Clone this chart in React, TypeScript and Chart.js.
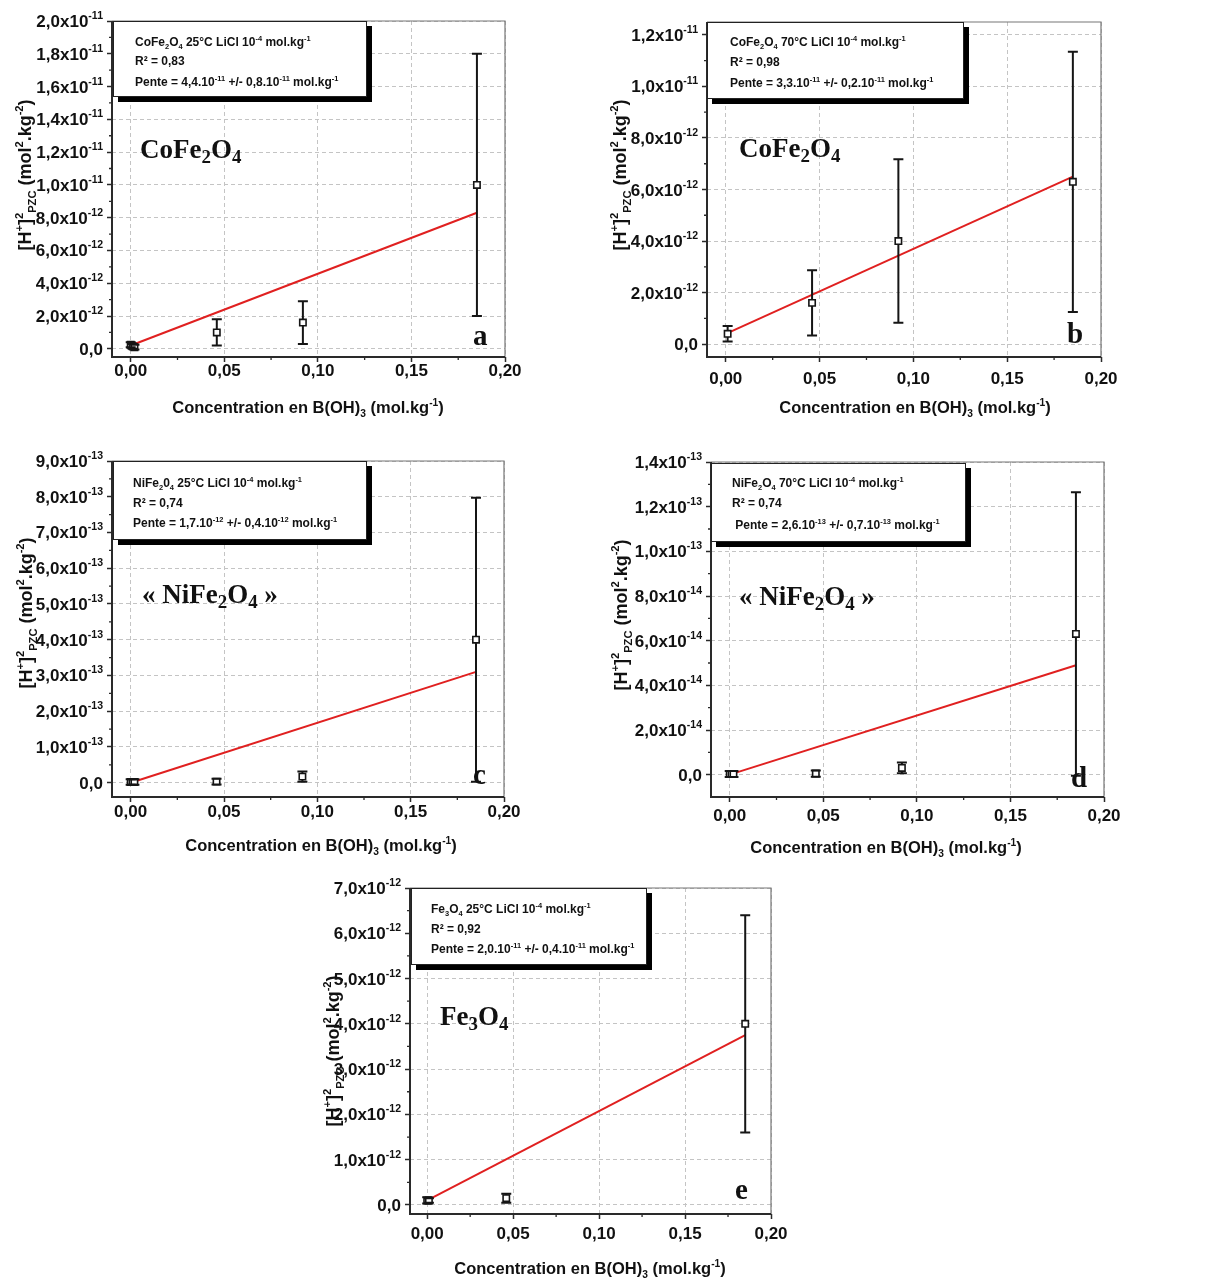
import React, { useEffect, useRef } from "react";
import { Chart, registerables } from "chart.js";

Chart.register(...registerables);

// ---------- shared axis data ----------
const X_TICKS = [0, 0.05, 0.1, 0.15, 0.2];
const X_TICK_LABELS = ["0,00", "0,05", "0,10", "0,15", "0,20"];
const X_TITLE = "Concentration en B(OH)_{3} (mol.kg^{-1})";
const Y_TITLE = "[H^{+}]^{2}_{PZC} (mol^{2}.kg^{-2})";

// ---------- panel a : CoFe2O4 25 °C ----------
const A_X = [0, 0.001, 0.002, 0.046, 0.092, 0.185];
const A_Y = [2.5e-13, 1.5e-13, 1.0e-13, 1.0e-12, 1.6e-12, 1.0e-11];
const A_ERR = [1.5e-13, 1.5e-13, 1.5e-13, 8e-13, 1.3e-12, 8.0e-12];
const A_FIT_X = [0, 0.185];
const A_FIT_Y = [2.0e-13, 8.3e-12];
const A_Y_TICKS = [0, 2e-12, 4e-12, 6e-12, 8e-12, 1e-11, 1.2e-11, 1.4e-11, 1.6e-11, 1.8e-11, 2e-11];
const A_Y_LABELS = ["0,0", "2,0x10^{-12}", "4,0x10^{-12}", "6,0x10^{-12}", "8,0x10^{-12}", "1,0x10^{-11}", "1,2x10^{-11}", "1,4x10^{-11}", "1,6x10^{-11}", "1,8x10^{-11}", "2,0x10^{-11}"];
const A_INFO = ["CoFe_{2}O_{4} 25°C LiCl 10^{-4} mol.kg^{-1}", "R² = 0,83", "Pente = 4,4.10^{-11} +/- 0,8.10^{-11} mol.kg^{-1}"];
const A_NAME = "CoFe_{2}O_{4}";

// ---------- panel b : CoFe2O4 70 °C ----------
const B_X = [0.001, 0.046, 0.092, 0.185];
const B_Y = [4.0e-13, 1.6e-12, 4.0e-12, 6.3e-12];
const B_ERR = [3.0e-13, 1.27e-12, 3.17e-12, 5.05e-12];
const B_FIT_X = [0, 0.185];
const B_FIT_Y = [4.0e-13, 6.5e-12];
const B_Y_TICKS = [0, 2e-12, 4e-12, 6e-12, 8e-12, 1e-11, 1.2e-11];
const B_Y_LABELS = ["0,0", "2,0x10^{-12}", "4,0x10^{-12}", "6,0x10^{-12}", "8,0x10^{-12}", "1,0x10^{-11}", "1,2x10^{-11}"];
const B_INFO = ["CoFe_{2}O_{4} 70°C LiCl 10^{-4} mol.kg^{-1}", "R² = 0,98", "Pente = 3,3.10^{-11} +/- 0,2.10^{-11} mol.kg^{-1}"];
const B_NAME = "CoFe_{2}O_{4}";

// ---------- panel c : NiFe2O4 25 °C ----------
const C_X = [0, 0.001, 0.002, 0.046, 0.092, 0.185];
const C_Y = [2e-15, 2e-15, 2e-15, 3e-15, 1.7e-14, 4.0e-13];
const C_ERR = [8e-15, 8e-15, 8e-15, 8e-15, 1.4e-14, 3.97e-13];
const C_FIT_X = [0, 0.185];
const C_FIT_Y = [0, 3.1e-13];
const C_Y_TICKS = [0, 1e-13, 2e-13, 3e-13, 4e-13, 5e-13, 6e-13, 7e-13, 8e-13, 9e-13];
const C_Y_LABELS = ["0,0", "1,0x10^{-13}", "2,0x10^{-13}", "3,0x10^{-13}", "4,0x10^{-13}", "5,0x10^{-13}", "6,0x10^{-13}", "7,0x10^{-13}", "8,0x10^{-13}", "9,0x10^{-13}"];
const C_INFO = ["NiFe_{2}0_{4} 25°C LiCl 10^{-4} mol.kg^{-1}", "R² = 0,74", "Pente = 1,7.10^{-12} +/- 0,4.10^{-12} mol.kg^{-1}"];
const C_NAME = "« NiFe_{2}O_{4} »";

// ---------- panel d : NiFe2O4 70 °C ----------
const D_X = [0, 0.001, 0.002, 0.046, 0.092, 0.185];
const D_Y = [3e-16, 3e-16, 3e-16, 5e-16, 3.0e-15, 6.3e-14];
const D_ERR = [1.3e-15, 1.3e-15, 1.3e-15, 1.4e-15, 2.4e-15, 6.35e-14];
const D_FIT_X = [0, 0.185];
const D_FIT_Y = [0, 4.9e-14];
const D_Y_TICKS = [0, 2e-14, 4e-14, 6e-14, 8e-14, 1e-13, 1.2e-13, 1.4e-13];
const D_Y_LABELS = ["0,0", "2,0x10^{-14}", "4,0x10^{-14}", "6,0x10^{-14}", "8,0x10^{-14}", "1,0x10^{-13}", "1,2x10^{-13}", "1,4x10^{-13}"];
const D_INFO = ["NiFe_{2}O_{4} 70°C LiCl 10^{-4} mol.kg^{-1}", "R² = 0,74", " Pente = 2,6.10^{-13} +/- 0,7.10^{-13} mol.kg^{-1}"];
const D_NAME = "« NiFe_{2}O_{4} »";

// ---------- panel e : Fe3O4 25 °C ----------
const E_X = [0, 0.001, 0.046, 0.185];
const E_Y = [1.0e-13, 1.0e-13, 1.5e-13, 4.0e-12];
const E_ERR = [7e-14, 5e-14, 1.0e-13, 2.4e-12];
const E_FIT_X = [0, 0.185];
const E_FIT_Y = [1.0e-13, 3.75e-12];
const E_Y_TICKS = [0, 1e-12, 2e-12, 3e-12, 4e-12, 5e-12, 6e-12, 7e-12];
const E_Y_LABELS = ["0,0", "1,0x10^{-12}", "2,0x10^{-12}", "3,0x10^{-12}", "4,0x10^{-12}", "5,0x10^{-12}", "6,0x10^{-12}", "7,0x10^{-12}"];
const E_INFO = ["Fe_{3}O_{4} 25°C LiCl 10^{-4} mol.kg^{-1}", "R² = 0,92", "Pente = 2,0.10^{-11} +/- 0,4.10^{-11} mol.kg^{-1}"];
const E_NAME = "Fe_{3}O_{4}";

const SANS = '"Liberation Sans", Arial, Helvetica, sans-serif';
const SERIF = '"Liberation Serif", "Times New Roman", Times, serif';
const MARK_HALF = 3.2;

type Seg = { t: string; k: "n" | "sup" | "sub" };
function parseRich(s: string): Seg[] {
  const segs: Seg[] = [];
  let buf = "";
  let i = 0;
  while (i < s.length) {
    const c = s[i];
    if ((c === "^" || c === "_") && s[i + 1] === "{") {
      if (buf) { segs.push({ t: buf, k: "n" }); buf = ""; }
      const end = s.indexOf("}", i + 2);
      segs.push({ t: s.slice(i + 2, end), k: c === "^" ? "sup" : "sub" });
      i = end + 1;
    } else { buf += c; i++; }
  }
  if (buf) segs.push({ t: buf, k: "n" });
  return segs;
}

interface RichOpts { size: number; family: string; weight?: string; scale?: number; rise?: number; drop?: number; color?: string; align?: "left" | "right" | "center"; }

function drawRich(ctx: CanvasRenderingContext2D, s: string, x: number, y: number, o: RichOpts) {
  const segs = parseRich(s);
  const weight = o.weight ?? "bold";
  const scale = o.scale ?? 0.62;
  const rise = o.rise ?? o.size * 0.45;
  const drop = o.drop ?? o.size * 0.25;
  const items: { t: string; x: number; font: string; dy: number }[] = [];
  let cx = 0;
  for (const sg of segs) {
    const fs = sg.k === "n" ? o.size : o.size * scale;
    const font = `${weight} ${fs}px ${o.family}`;
    ctx.font = font;
    const w = ctx.measureText(sg.t).width;
    items.push({ t: sg.t, x: cx, font, dy: sg.k === "sup" ? -rise : sg.k === "sub" ? drop : 0 });
    cx += w;
  }
  const align = o.align ?? "left";
  const x0 = align === "right" ? x - cx : align === "center" ? x - cx / 2 : x;
  ctx.fillStyle = o.color ?? "#111";
  ctx.textAlign = "left";
  ctx.textBaseline = "alphabetic";
  for (const it of items) {
    ctx.font = it.font;
    ctx.fillText(it.t, x0 + it.x, y + it.dy);
  }
}

interface Panel {
  xs: number[]; ys: number[]; err: number[]; fitX: number[]; fitY: number[];
  yMin: number; yMax: number; yTicks: number[]; yLabels: string[];
  info: string[]; name: string; letter: string;
  cv: { x: number; y: number; w: number; h: number };
  plot: { l: number; t: number; r: number; b: number };
  yTitle: { x: number; y: number }; xLabelY: number; xTitle: { x: number; y: number };
  box: { x: number; y: number; w: number; h: number }; infoX: number; infoY: number[];
  namePos: { x: number; y: number }; letterPos: { x: number; y: number };
}

const PANELS: Panel[] = [
  {
    xs: A_X, ys: A_Y, err: A_ERR, fitX: A_FIT_X, fitY: A_FIT_Y, yMin: -5e-13, yMax: 2e-11,
    yTicks: A_Y_TICKS, yLabels: A_Y_LABELS, info: A_INFO, name: A_NAME, letter: "a",
    cv: { x: 0, y: 0, w: 600, h: 432 }, plot: { l: 112, t: 21, r: 505, b: 357 },
    yTitle: { x: 25, y: 175 }, xLabelY: 376, xTitle: { x: 308, y: 413 },
    box: { x: 113, y: 21, w: 254, h: 76 }, infoX: 135, infoY: [46, 65, 86],
    namePos: { x: 140, y: 158 }, letterPos: { x: 473, y: 345 },
  },
  {
    xs: B_X, ys: B_Y, err: B_ERR, fitX: B_FIT_X, fitY: B_FIT_Y, yMin: -5e-13, yMax: 1.25e-11,
    yTicks: B_Y_TICKS, yLabels: B_Y_LABELS, info: B_INFO, name: B_NAME, letter: "b",
    cv: { x: 600, y: 0, w: 608, h: 432 }, plot: { l: 707, t: 22, r: 1101, b: 357 },
    yTitle: { x: 620, y: 175 }, xLabelY: 384, xTitle: { x: 915, y: 413 },
    box: { x: 707, y: 22, w: 257, h: 77 }, infoX: 730, infoY: [46, 66, 87],
    namePos: { x: 739, y: 157 }, letterPos: { x: 1067, y: 343 },
  },
  {
    xs: C_X, ys: C_Y, err: C_ERR, fitX: C_FIT_X, fitY: C_FIT_Y, yMin: -4e-14, yMax: 9e-13,
    yTicks: C_Y_TICKS, yLabels: C_Y_LABELS, info: C_INFO, name: C_NAME, letter: "c",
    cv: { x: 0, y: 436, w: 600, h: 430 }, plot: { l: 112, t: 461, r: 504, b: 797 },
    yTitle: { x: 26, y: 613 }, xLabelY: 817, xTitle: { x: 321, y: 851 },
    box: { x: 113, y: 461, w: 254, h: 79 }, infoX: 133, infoY: [487, 507, 527],
    namePos: { x: 142, y: 603 }, letterPos: { x: 473, y: 784 },
  },
  {
    xs: D_X, ys: D_Y, err: D_ERR, fitX: D_FIT_X, fitY: D_FIT_Y, yMin: -1e-14, yMax: 1.4e-13,
    yTicks: D_Y_TICKS, yLabels: D_Y_LABELS, info: D_INFO, name: D_NAME, letter: "d",
    cv: { x: 600, y: 436, w: 608, h: 430 }, plot: { l: 711, t: 462, r: 1104, b: 797 },
    yTitle: { x: 621, y: 615 }, xLabelY: 821, xTitle: { x: 886, y: 853 },
    box: { x: 711, y: 463, w: 255, h: 79 }, infoX: 732, infoY: [487, 507, 529],
    namePos: { x: 739, y: 605 }, letterPos: { x: 1071, y: 787 },
  },
  {
    xs: E_X, ys: E_Y, err: E_ERR, fitX: E_FIT_X, fitY: E_FIT_Y, yMin: -2e-13, yMax: 7e-12,
    yTicks: E_Y_TICKS, yLabels: E_Y_LABELS, info: E_INFO, name: E_NAME, letter: "e",
    cv: { x: 300, y: 868, w: 600, h: 414 }, plot: { l: 410, t: 888, r: 771, b: 1214 },
    yTitle: { x: 333, y: 1051 }, xLabelY: 1239, xTitle: { x: 590, y: 1274 },
    box: { x: 411, y: 888, w: 236, h: 77 }, infoX: 431, infoY: [913, 933, 953],
    namePos: { x: 440, y: 1025 }, letterPos: { x: 735, y: 1199 },
  },
];

function makePlugin(p: Panel) {
  const X = (chart: any, v: number) => chart.scales.x.getPixelForValue(v) + p.cv.x;
  const Y = (chart: any, v: number) => chart.scales.y.getPixelForValue(v) + p.cv.y;
  return {
    id: "decor",
    afterDatasetsDraw(chart: any) {
      // error bars, drawn around (not through) the open square markers
      const ctx: CanvasRenderingContext2D = chart.ctx;
      ctx.save();
      ctx.translate(-p.cv.x, -p.cv.y);
      ctx.strokeStyle = "#151515";
      ctx.lineWidth = 2;
      p.xs.forEach((xv, i) => {
        const e = p.err[i];
        const x = X(chart, xv);
        const yc = Y(chart, p.ys[i]);
        const y1 = Y(chart, p.ys[i] - e);
        const y2 = Y(chart, p.ys[i] + e);
        ctx.beginPath();
        if (y1 > yc + MARK_HALF) { ctx.moveTo(x, y1); ctx.lineTo(x, yc + MARK_HALF); }
        if (y2 < yc - MARK_HALF) { ctx.moveTo(x, yc - MARK_HALF); ctx.lineTo(x, y2); }
        ctx.moveTo(x - 5, y1); ctx.lineTo(x + 5, y1);
        ctx.moveTo(x - 5, y2); ctx.lineTo(x + 5, y2);
        ctx.stroke();
      });
      ctx.restore();
    },
    afterDraw(chart: any) {
      const ctx: CanvasRenderingContext2D = chart.ctx;
      const a = chart.chartArea;
      const L = a.left + p.cv.x, R = a.right + p.cv.x, T = a.top + p.cv.y, B = a.bottom + p.cv.y;
      ctx.save();
      ctx.translate(-p.cv.x, -p.cv.y);
      // frame
      ctx.strokeStyle = "#777";
      ctx.lineWidth = 1.2;
      ctx.beginPath();
      ctx.moveTo(L, T); ctx.lineTo(R, T); ctx.lineTo(R, B);
      ctx.stroke();
      ctx.strokeStyle = "#2a2a2a";
      ctx.lineWidth = 2;
      ctx.beginPath();
      ctx.moveTo(L, T); ctx.lineTo(L, B); ctx.lineTo(R, B);
      ctx.stroke();
      // minor ticks
      ctx.lineWidth = 1.3;
      ctx.beginPath();
      for (let i = 0; i < X_TICKS.length - 1; i++) {
        const x = X(chart, (X_TICKS[i] + X_TICKS[i + 1]) / 2);
        ctx.moveTo(x, B); ctx.lineTo(x, B + 3);
      }
      for (let i = 0; i < p.yTicks.length - 1; i++) {
        const y = Y(chart, (p.yTicks[i] + p.yTicks[i + 1]) / 2);
        ctx.moveTo(L, y); ctx.lineTo(L - 3, y);
      }
      ctx.stroke();
      // y tick labels
      p.yTicks.forEach((v, i) => {
        drawRich(ctx, p.yLabels[i], L - 9, Y(chart, v) + 6, { size: 17, family: SANS, scale: 0.62, rise: 8, align: "right" });
      });
      // x tick labels
      X_TICKS.forEach((v, i) => {
        drawRich(ctx, X_TICK_LABELS[i], X(chart, v), p.xLabelY, { size: 17, family: SANS, align: "center" });
      });
      // axis titles
      drawRich(ctx, X_TITLE, p.xTitle.x, p.xTitle.y, { size: 16.5, family: SANS, scale: 0.62, rise: 7, drop: 4, align: "center" });
      ctx.save();
      ctx.translate(p.yTitle.x, p.yTitle.y);
      ctx.rotate(-Math.PI / 2);
      drawRich(ctx, Y_TITLE, 0, 6, { size: 18, family: SANS, scale: 0.62, rise: 8, drop: 4.5, align: "center" });
      ctx.restore();
      // info box
      const bx = p.box;
      ctx.fillStyle = "#000";
      ctx.fillRect(bx.x + 5, bx.y + 5, bx.w, bx.h);
      ctx.fillStyle = "#fff";
      ctx.fillRect(bx.x, bx.y, bx.w, bx.h);
      ctx.strokeStyle = "#222";
      ctx.lineWidth = 1;
      ctx.strokeRect(bx.x + 0.5, bx.y + 0.5, bx.w - 1, bx.h - 1);
      p.info.forEach((line, i) => {
        drawRich(ctx, line, p.infoX, p.infoY[i], { size: 12, family: SANS, scale: 0.62, rise: 5, drop: 3 });
      });
      // material name and panel letter
      drawRich(ctx, p.name, p.namePos.x, p.namePos.y, { size: 27, family: SERIF, scale: 0.7, drop: 5 });
      drawRich(ctx, p.letter, p.letterPos.x, p.letterPos.y, { size: 29, family: SERIF });
      ctx.restore();
    },
  };
}

function PanelChart({ p }: { p: Panel }) {
  const ref = useRef<HTMLCanvasElement>(null);
  useEffect(() => {
    const cv = p.cv;
    const padTop = p.plot.t - cv.y;
    const padRight = cv.x + cv.w - p.plot.r;
    const yW = p.plot.l - cv.x;
    const xH = cv.y + cv.h - p.plot.b;
    const gridOpts = { color: "#c4c4c4", lineWidth: 1, tickColor: "#2a2a2a", tickWidth: 1.5, tickLength: 5, drawTicks: true };
    const chart = new Chart(ref.current as HTMLCanvasElement, {
      type: "scatter",
      data: {
        datasets: [
          {
            data: p.xs.map((x, i) => ({ x, y: p.ys[i] })),
            pointStyle: "rect", pointRadius: 4.5, borderColor: "#151515", backgroundColor: "#fff",
            borderWidth: 1.6, showLine: false, order: 0,
          } as any,
          {
            data: p.fitX.map((x, i) => ({ x, y: p.fitY[i] })),
            showLine: true, borderColor: "#e02020", borderWidth: 2, pointRadius: 0, order: 1,
          } as any,
        ],
      },
      options: {
        animation: false,
        responsive: false,
        events: [],
        layout: { padding: { left: 0, top: padTop, right: padRight, bottom: 0 } },
        plugins: { legend: { display: false }, tooltip: { enabled: false } },
        scales: {
          x: {
            type: "linear", min: -0.01, max: 0.2,
            afterBuildTicks: (s: any) => { s.ticks = X_TICKS.map((v) => ({ value: v })); },
            afterFit: (s: any) => { s.height = xH; },
            ticks: { display: false },
            grid: gridOpts,
            border: { display: false, dash: [4, 3] },
          },
          y: {
            type: "linear", min: p.yMin, max: p.yMax,
            afterBuildTicks: (s: any) => { s.ticks = p.yTicks.map((v) => ({ value: v })); },
            afterFit: (s: any) => { s.width = yW; },
            ticks: { display: false },
            grid: gridOpts,
            border: { display: false, dash: [4, 3] },
          },
        },
      } as any,
      plugins: [makePlugin(p)],
    });
    return () => chart.destroy();
  }, [p]);
  return (
    <canvas
      ref={ref}
      width={p.cv.w}
      height={p.cv.h}
      style={{ position: "absolute", left: p.cv.x, top: p.cv.y, width: p.cv.w, height: p.cv.h }}
    />
  );
}

export default function App() {
  return (
    <div style={{ position: "absolute", left: 0, top: 0, width: 1208, height: 1282, background: "#fff", overflow: "hidden" }}>
      {PANELS.map((p, i) => (
        <PanelChart key={i} p={p} />
      ))}
    </div>
  );
}
